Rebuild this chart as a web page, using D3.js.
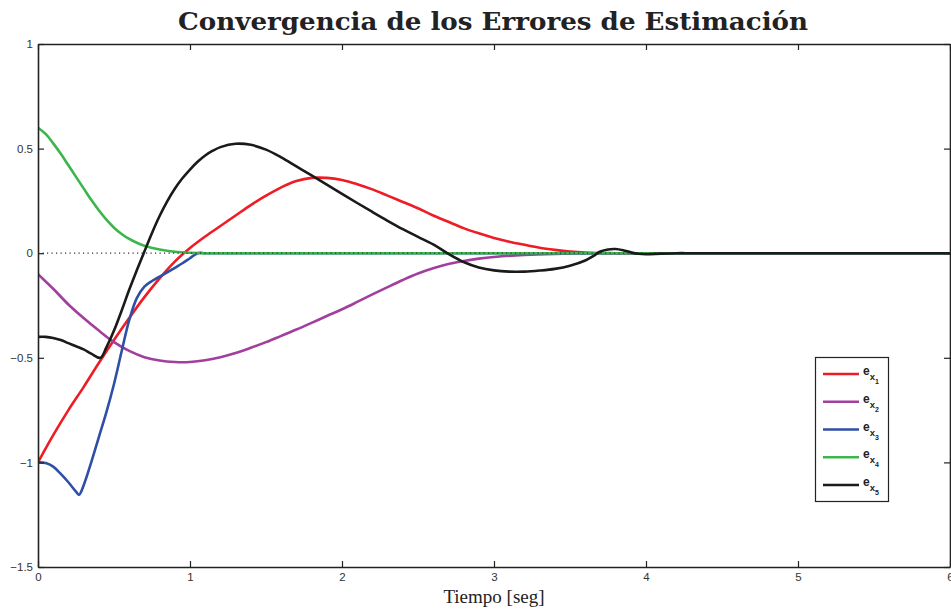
<!DOCTYPE html>
<html>
<head>
<meta charset="utf-8">
<script src="https://cdn.jsdelivr.net/npm/d3@7"></script>
<style>
  html, body { margin: 0; padding: 0; background: #fff; }
  svg { display: block; }
</style>
</head>
<body>
<svg id="chart" width="951" height="612"></svg>
<script>
// Estimation-error trajectories (time in seconds, error value)
const tE1 = [0,0.1,0.2,0.3,0.4,0.5,0.6,0.7,0.8,0.9,1.0,1.1,1.2,1.3,1.4,1.5,1.6,1.7,1.8,1.9,2.0,2.1,2.2,2.3,2.4,2.5,2.6,2.7,2.8,2.9,3.0,3.1,3.2,3.3,3.4,3.5,3.6,3.7,3.8,3.9,4.5,5.0,5.5,6.0];
const vE1 = [-1,-0.87,-0.75,-0.64,-0.525,-0.415,-0.31,-0.21,-0.12,-0.04,0.025,0.08,0.13,0.18,0.23,0.275,0.315,0.345,0.36,0.36,0.35,0.33,0.305,0.275,0.245,0.215,0.18,0.15,0.12,0.095,0.073,0.055,0.04,0.026,0.016,0.008,0.003,0.001,0,0,0,0,0,0];

const tE2 = [0,0.1,0.2,0.3,0.4,0.5,0.6,0.7,0.8,0.9,1.0,1.1,1.2,1.3,1.4,1.5,1.6,1.7,1.8,1.9,2.0,2.1,2.2,2.3,2.4,2.5,2.6,2.7,2.8,2.9,3.0,3.2,3.4,3.6,3.7,4.0,4.5,5.0,5.5,6.0];
const vE2 = [-0.10,-0.17,-0.245,-0.31,-0.37,-0.425,-0.467,-0.497,-0.513,-0.52,-0.52,-0.512,-0.497,-0.477,-0.452,-0.425,-0.395,-0.365,-0.333,-0.30,-0.268,-0.233,-0.197,-0.162,-0.128,-0.097,-0.072,-0.052,-0.037,-0.026,-0.018,-0.008,-0.003,-0.001,0,0,0,0,0,0];

const tE3 = [0,0.05,0.1,0.15,0.2,0.25,0.27,0.3,0.35,0.4,0.45,0.5,0.55,0.6,0.65,0.7,0.75,0.8,0.85,0.9,0.95,1.0,1.05,1.1,1.2,1.5,2.0,3.0,4.0,5.0,6.0];
const vE3 = [-1.0,-1.003,-1.02,-1.055,-1.095,-1.14,-1.155,-1.11,-1.0,-0.88,-0.76,-0.625,-0.47,-0.32,-0.215,-0.16,-0.133,-0.112,-0.092,-0.07,-0.048,-0.024,0,0,0,0,0,0,0,0,0];

const tE4 = [0,0.05,0.1,0.15,0.2,0.25,0.3,0.35,0.4,0.45,0.5,0.55,0.6,0.65,0.7,0.8,0.9,1.0,1.1,1.2,1.5,2.0,3.0,4.0,5.0,6.0];
const vE4 = [0.6,0.57,0.525,0.475,0.42,0.365,0.31,0.255,0.205,0.16,0.122,0.092,0.068,0.05,0.036,0.018,0.007,0.002,0,0,0,0,0,0,0,0];

const tE5 = [0,0.05,0.1,0.15,0.2,0.25,0.3,0.35,0.41,0.45,0.5,0.55,0.6,0.65,0.7,0.75,0.8,0.85,0.9,0.95,1.0,1.05,1.1,1.15,1.2,1.3,1.4,1.5,1.6,1.7,1.8,1.9,2.0,2.1,2.2,2.3,2.4,2.5,2.6,2.7,2.8,2.9,3.0,3.1,3.2,3.3,3.4,3.5,3.6,3.65,3.7,3.75,3.8,3.85,3.9,3.95,4.0,4.1,4.2,4.3,4.5,5.0,5.5,6.0];
const vE5 = [-0.4,-0.4,-0.405,-0.415,-0.43,-0.445,-0.46,-0.48,-0.50,-0.45,-0.37,-0.275,-0.175,-0.082,0.008,0.097,0.178,0.248,0.308,0.358,0.40,0.437,0.467,0.49,0.507,0.523,0.518,0.495,0.458,0.415,0.372,0.328,0.284,0.24,0.197,0.155,0.115,0.078,0.042,-0.003,-0.042,-0.068,-0.082,-0.088,-0.088,-0.083,-0.075,-0.06,-0.035,-0.015,0.008,0.018,0.02,0.014,0.004,-0.003,-0.005,-0.002,0,0,0,0,0,0];

const seriesNames = ["1","2","3","4","5"];
const seriesColors = ["#ee1c24","#a23f9e","#2f4fa6","#3cb54a","#1a1a1a"];

const xTicks = [0,1,2,3,4,5,6];
const yTicks = [-1.5,-1,-0.5,0,0.5,1];
const yTickLabels = ["\u22121.5","\u22121","\u22120.5","0","0.5","1"];

const titleText = "Convergencia de los Errores de Estimación";
const xLabelText = "Tiempo [seg]";

const svg = d3.select("#chart");
const box = { left: 38, right: 950, top: 44, bottom: 567 };

const x = d3.scaleLinear().domain([0, 6]).range([box.left, box.right]);
const y = d3.scaleLinear().domain([-1.5, 1]).range([box.bottom, box.top]);

const axisColor = "#222";
const tickFont = "'Liberation Sans', Arial, sans-serif";

// Plot curves, clipped to the axes box
svg.append("clipPath").attr("id", "plotClip")
  .append("rect").attr("x", box.left).attr("y", box.top)
  .attr("width", box.right - box.left).attr("height", box.bottom - box.top);

const plot = svg.append("g").attr("clip-path", "url(#plotClip)");
const line = d3.line().x(d => x(d[0])).y(d => y(d[1])).curve(d3.curveCatmullRom.alpha(0.5));

const allSeries = [
  d3.zip(tE1, vE1), d3.zip(tE2, vE2), d3.zip(tE3, vE3), d3.zip(tE4, vE4), d3.zip(tE5, vE5)
];

function drawSeries(i) {
  plot.append("path")
    .attr("d", line(allSeries[i]))
    .attr("fill", "none")
    .attr("stroke", seriesColors[i])
    .attr("stroke-width", 2.6)
    .attr("stroke-linejoin", "round")
    .attr("stroke-linecap", "round");
}

[0, 1, 2, 3].forEach(drawSeries);

// dotted zero reference line
plot.append("line")
  .attr("x1", x(0)).attr("x2", x(6))
  .attr("y1", y(0)).attr("y2", y(0))
  .attr("stroke", "#333")
  .attr("stroke-width", 1.2)
  .attr("stroke-dasharray", "1.2,3.3");

drawSeries(4);

// Axes box with inward ticks on all four sides
const axes = svg.append("g");
const tickLen = 6;

axes.append("g").attr("transform", `translate(0,${box.bottom})`)
  .call(d3.axisBottom(x).tickValues(xTicks).tickSizeInner(-tickLen).tickSizeOuter(0).tickPadding(6).tickFormat(d3.format("d")));
axes.append("g").attr("transform", `translate(0,${box.top})`)
  .call(d3.axisTop(x).tickValues(xTicks).tickSizeInner(-tickLen).tickSizeOuter(0).tickFormat(""));
axes.append("g").attr("transform", `translate(${box.left},0)`)
  .call(d3.axisLeft(y).tickValues(yTicks).tickSizeInner(-tickLen).tickSizeOuter(0).tickPadding(5)
    .tickFormat((d, i) => yTickLabels[i]));
axes.append("g").attr("transform", `translate(${box.right},0)`)
  .call(d3.axisRight(y).tickValues(yTicks).tickSizeInner(-tickLen).tickSizeOuter(0).tickFormat(""));

axes.selectAll(".domain").attr("stroke", axisColor).attr("stroke-width", 1.6);
axes.selectAll(".tick line").attr("stroke", axisColor).attr("stroke-width", 1.2);
axes.selectAll(".tick text")
  .attr("fill", "#333")
  .style("font-family", tickFont)
  .style("font-size", "11.5px");

// Title and axis label
svg.append("text")
  .attr("x", 493).attr("y", 30)
  .attr("text-anchor", "middle")
  .attr("textLength", 630)
  .attr("lengthAdjust", "spacingAndGlyphs")
  .style("font-family", "'DejaVu Serif', 'Liberation Serif', serif")
  .style("font-weight", "bold")
  .style("font-size", "25px")
  .attr("fill", "#222")
  .text(titleText);

svg.append("text")
  .attr("x", 494).attr("y", 603)
  .attr("text-anchor", "middle")
  .style("font-family", "'Liberation Serif', 'DejaVu Serif', serif")
  .style("font-size", "19px")
  .attr("fill", "#222")
  .text(xLabelText);

// Legend
const legend = svg.append("g");
legend.append("rect")
  .attr("x", 815.5).attr("y", 357.5)
  .attr("width", 73).attr("height", 144)
  .attr("fill", "#fff")
  .attr("stroke", axisColor)
  .attr("stroke-width", 1.2);

const legendY = d3.scaleLinear().domain([0, 4]).range([374, 485]);
seriesNames.forEach((name, i) => {
  const ly = legendY(i);
  legend.append("line")
    .attr("x1", 823).attr("x2", 859)
    .attr("y1", ly).attr("y2", ly)
    .attr("stroke", seriesColors[i])
    .attr("stroke-width", 2.6);
  const t = legend.append("text")
    .attr("x", 863).attr("y", ly + 1)
    .style("font-family", tickFont)
    .style("font-weight", "bold")
    .attr("fill", "#222");
  t.append("tspan").style("font-size", "12px").text("e");
  t.append("tspan").attr("dy", 5).style("font-size", "9.5px").text("x");
  t.append("tspan").attr("dy", 4).style("font-size", "7px").text(name);
});
</script>
</body>
</html>
